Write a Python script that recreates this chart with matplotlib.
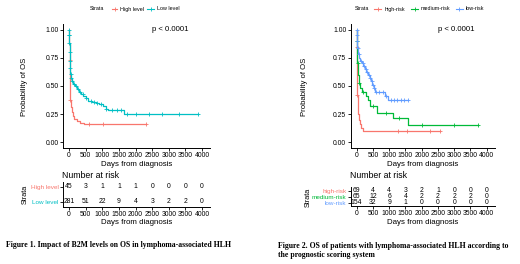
"""Two Kaplan-Meier panels with number-at-risk tables (lymphoma-associated HLH)."""

import numpy as np
import matplotlib

matplotlib.use("Agg")
import matplotlib.pyplot as plt
from matplotlib.lines import Line2D

plt.rcParams["font.family"] = ["Liberation Sans", "DejaVu Sans"]

W, H = 520, 264
XLIM = (-190, 4240)
XTICKS = [0, 500, 1000, 1500, 2000, 2500, 3000, 3500, 4000]

RED, TEAL = "#F8766D", "#00BFC4"
GREEN, BLUE = "#00BA38", "#619CFF"

# ---- Figure 1: B2M level -------------------------------------------------
hi_t = [0, 8, 15, 22, 30, 40, 55, 75, 110, 160, 230, 330, 450]
hi_s = [1.0, 0.87, 0.73, 0.6, 0.47, 0.38, 0.31, 0.27, 0.23, 0.21, 0.19, 0.17, 0.16]
hi_end = 2330
hi_cens = [15, 40, 600, 1010, 2330]

lo_t = [0, 5, 10, 15, 20, 28, 40, 60, 90, 130, 180, 240, 300, 360, 430, 500,
        580, 680, 800, 900, 1020, 1100, 1180, 1640]
lo_s = [1.0, 0.95, 0.88, 0.8, 0.72, 0.66, 0.61, 0.57, 0.54, 0.52, 0.5, 0.47,
        0.45, 0.43, 0.41, 0.39, 0.37, 0.36, 0.35, 0.34, 0.32, 0.30, 0.285, 0.25]
lo_end = 3870
lo_cens = [3, 6, 9, 12, 16, 22, 30, 45, 70, 100, 150, 200, 260, 330, 420, 520,
           650, 750, 850, 950, 1100, 1300, 1450, 1550, 1750, 2000, 2400, 2800,
           3300, 3870]

fig1_labels = ["High level", "Low level"]
fig1_risk = [[45, 3, 1, 1, 1, 0, 0, 0, 0],
             [281, 51, 22, 9, 4, 3, 2, 2, 0]]

# ---- Figure 2: prognostic score ------------------------------------------
hr_t = [0, 5, 10, 15, 20, 30, 45, 60, 90, 130, 190]
hr_s = [1.0, 0.85, 0.7, 0.55, 0.42, 0.33, 0.25, 0.2, 0.16, 0.125, 0.10]
hr_end = 2560
hr_cens = [8, 20, 1270, 1540, 2250, 2560]

mr_t = [0, 8, 15, 25, 40, 60, 90, 150, 290, 360, 410, 615, 1110, 1590]
mr_s = [1.0, 0.9, 0.8, 0.7, 0.6, 0.53, 0.48, 0.45, 0.41, 0.375, 0.32, 0.26,
        0.215, 0.155]
mr_end = 3740
mr_cens = [10, 30, 80, 200, 500, 900, 1300, 2000, 3000, 3740]

lr_t = [0, 5, 10, 20, 40, 70, 100, 150, 200, 255, 300, 360, 400, 440, 480,
        520, 560, 870, 970]
lr_s = [1.0, 0.95, 0.9, 0.84, 0.78, 0.75, 0.72, 0.70, 0.68, 0.65, 0.62, 0.60,
        0.57, 0.54, 0.51, 0.48, 0.45, 0.41, 0.38]
lr_end = 1590
lr_cens = [3, 8, 15, 30, 60, 120, 180, 230, 280, 330, 380, 420, 460, 500, 540,
           600, 700, 800, 900, 1050, 1150, 1250, 1350, 1450, 1590]

fig2_labels = ["high-risk", "medium-risk", "low-risk"]
fig2_risk = [[69, 4, 4, 3, 2, 1, 0, 0, 0],
             [65, 12, 6, 4, 2, 2, 2, 2, 0],
             [154, 32, 9, 1, 0, 0, 0, 0, 0]]


def px_rect(x0, y0, x1, y1):
    """pixel box (top-left origin) -> figure fraction rect."""
    return [x0 / W, 1 - y1 / H, (x1 - x0) / W, (y1 - y0) / H]


def style_axis(ax):
    for side in ("top", "right"):
        ax.spines[side].set_visible(False)
    for side in ("left", "bottom"):
        ax.spines[side].set_linewidth(0.7)
    ax.tick_params(length=2, width=0.6, labelsize=4.9, pad=1)
    ax.set_xlim(*XLIM)
    ax.set_xticks(XTICKS)


def draw_km(ax, curves):
    style_axis(ax)
    for t, s, end, cens, col in curves:
        t = np.asarray(t, float)
        s = np.asarray(s, float)
        ax.step(np.append(t, end), np.append(s, s[-1]), where="post",
                color=col, lw=0.9)
        cens = np.asarray(cens, float)
        cy = s[np.searchsorted(t, cens, side="right") - 1]
        ax.plot(cens, cy, ls="none", marker="+", ms=2.6, mew=0.6, color=col)
    ax.set_ylim(-0.05, 1.05)
    ax.set_yticks([0, 0.25, 0.5, 0.75, 1.0])
    ax.set_yticklabels(["0.00", "0.25", "0.50", "0.75", "1.00"])
    ax.set_xlabel("Days from diagnosis", fontsize=5.7, labelpad=1)
    ax.text(3050, 1.0, "p < 0.0001", ha="center", va="center", fontsize=5.6)


def draw_risk(ax, labels, colors, counts, ylim):
    style_axis(ax)
    n = len(labels)
    rows = np.arange(n, 0, -1)
    for row, vals, in zip(rows, counts):
        for x, v in zip(XTICKS, vals):
            ax.text(x, row, str(v), ha="center", va="center", fontsize=4.9)
    ax.set_ylim(*ylim)
    ax.set_yticks(rows)
    ax.set_yticklabels(labels, fontsize=4.6)
    for lab, col in zip(ax.get_yticklabels(), colors):
        lab.set_color(col)
    ax.set_xlabel("Days from diagnosis", fontsize=5.7, labelpad=1)


def legend_row(items, x_strata, y):
    fig.text(x_strata / W, 1 - y / H, "Strata", fontsize=3.9, va="center")
    for x0, x1, xt, lab, col in items:
        yy = 1 - y / H
        fig.add_artist(Line2D([x0 / W, x1 / W], [yy, yy], color=col, lw=0.8,
                              transform=fig.transFigure))
        fig.add_artist(Line2D([(x0 + x1) / 2 / W], [yy], color=col, marker="+",
                              ms=2.4, mew=0.6, transform=fig.transFigure))
        fig.text(xt / W, yy, lab, fontsize=3.9, va="center")


fig = plt.figure(figsize=(W / 100, H / 100), dpi=100)

# panel 1
ax1 = fig.add_axes(px_rect(62.7, 24, 210, 148))
draw_km(ax1, [(hi_t, hi_s, hi_end, hi_cens, RED),
              (lo_t, lo_s, lo_end, lo_cens, TEAL)])
fig.text(25 / W, 1 - 87 / H, "Probability of OS", rotation=90, fontsize=5.6,
         ha="center", va="center")
t1 = fig.add_axes(px_rect(62.7, 181.7, 210, 206.7))
draw_risk(t1, fig1_labels, [RED, TEAL], fig1_risk, (0.65, 2.35))
fig.text(62.3 / W, 1 - 176 / H, "Number at risk", fontsize=6.3, va="center")
fig.text(25 / W, 1 - 194 / H, "Strata", rotation=90, fontsize=5.2,
         ha="center", va="center")
legend_row([(111.7, 117.3, 120, "High level", RED),
            (146.7, 154.3, 156.7, "Low level", TEAL)], 90, 9)
fig.text(6 / W, 1 - 245 / H,
         "Figure 1. Impact of B2M levels on OS in lymphoma-associated HLH",
         family="Liberation Serif", weight="bold", fontsize=5.6, va="center")

# panel 2
ax2 = fig.add_axes(px_rect(350.5, 24, 494.5, 148))
draw_km(ax2, [(hr_t, hr_s, hr_end, hr_cens, RED),
              (mr_t, mr_s, mr_end, mr_cens, GREEN),
              (lr_t, lr_s, lr_end, lr_cens, BLUE)])
fig.text(305 / W, 1 - 87 / H, "Probability of OS", rotation=90, fontsize=5.6,
         ha="center", va="center")
t2 = fig.add_axes(px_rect(350.5, 186.7, 494.5, 206))
draw_risk(t2, fig2_labels, [RED, GREEN, BLUE], fig2_risk, (0.45, 3.65))
fig.text(350 / W, 1 - 175 / H, "Number at risk", fontsize=6.3, va="center")
fig.text(308.3 / W, 1 - 197 / H, "Strata", rotation=90, fontsize=5.2,
         ha="center", va="center")
legend_row([(374.3, 380.7, 384.3, "high-risk", RED),
            (411, 418.3, 421, "medium-risk", GREEN),
            (456, 462.7, 466, "low-risk", BLUE)], 355, 9)
fig.text(278.3 / W, 1 - 246 / H,
         "Figure 2. OS of patients with lymphoma-associated HLH according to",
         family="Liberation Serif", weight="bold", fontsize=5.6, va="center")
fig.text(278.3 / W, 1 - 255 / H, "the prognostic scoring system",
         family="Liberation Serif", weight="bold", fontsize=5.6, va="center")

fig.savefig("out.png", dpi=100)
